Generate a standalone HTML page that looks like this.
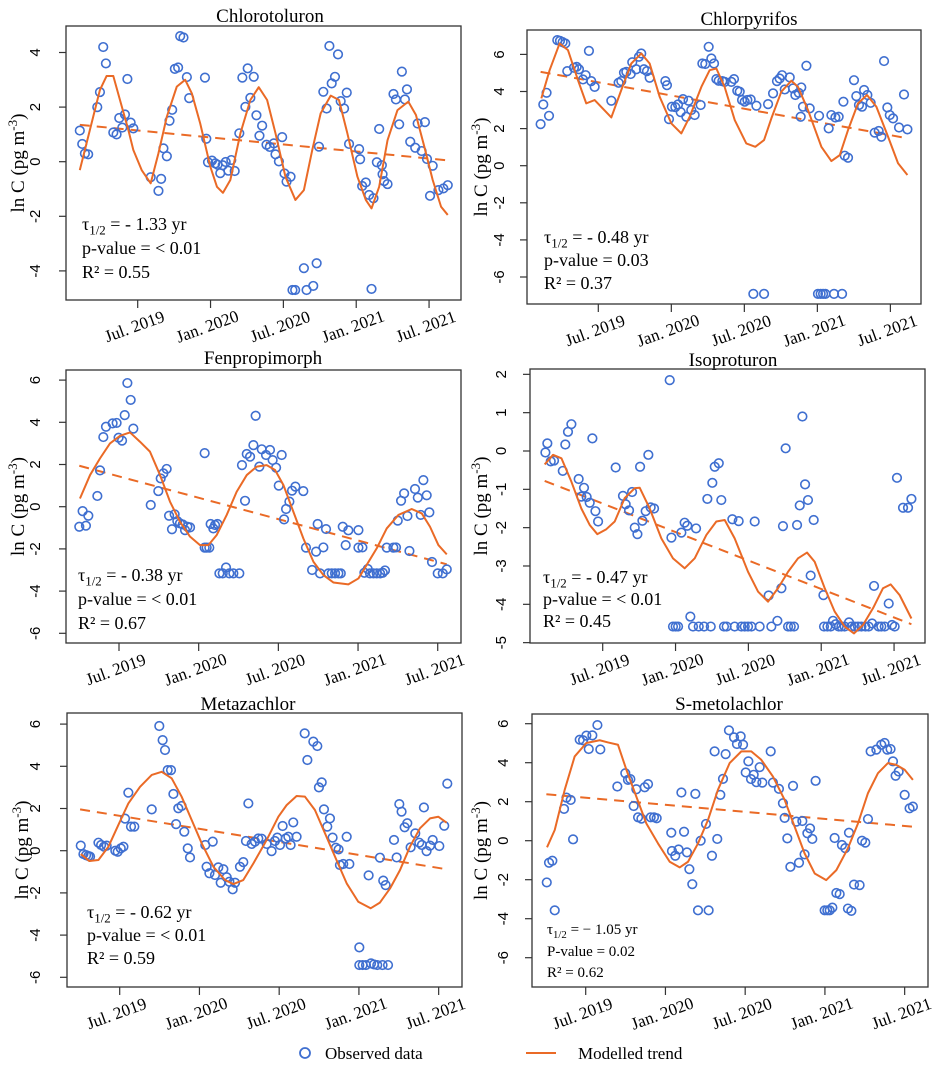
<!DOCTYPE html>
<html><head><meta charset="utf-8">
<style>
html,body{margin:0;padding:0;background:#fff;}
svg{display:block;}
svg text{font-family:"Liberation Serif","DejaVu Serif",serif;}
svg text.sans{font-family:"Liberation Sans","DejaVu Sans",sans-serif;}
</style></head>
<body>
<svg id="chart" width="938" height="1069" viewBox="0 0 938 1069" xmlns="http://www.w3.org/2000/svg"></svg>
<script>
// ---------- shared axis data ----------
const xTickMonths = [6, 12, 18, 24, 30];
const xTickLabels = ["Jul. 2019", "Jan. 2020", "Jul. 2020", "Jan. 2021", "Jul. 2021"];

// ---------- Panel 1: Chlorotoluron ----------
const p1ObsMonths = [1.23,1.43,1.65,1.92,2.67,2.89,3.16,3.38,3.99,4.26,4.48,4.73,4.95,5.15,5.42,5.64,7.07,7.71,7.93,8.12,8.4,8.62,8.84,9.06,9.33,9.5,9.77,10.05,10.24,11.54,11.65,11.79,12.12,12.39,12.58,12.8,13.0,13.25,13.47,13.71,13.99,14.37,14.62,14.87,15.06,15.28,15.56,15.78,16.03,16.25,16.61,16.88,17.21,17.35,17.63,17.9,18.09,18.26,18.59,18.75,18.97,19.69,19.91,20.46,20.74,20.93,21.29,21.56,21.79,21.98,22.25,22.5,22.72,23.0,23.22,23.41,24.24,24.32,24.49,24.79,25.06,25.42,25.26,25.7,25.89,26.11,26.17,26.3,26.58,27.07,27.27,27.54,27.76,28.01,28.18,28.45,28.86,29.06,29.39,29.66,29.83,30.3,30.08,30.77,31.18,31.54];
const p1ObsValues = [1.14,0.65,0.3,0.27,2.0,2.55,4.2,3.6,1.07,1.0,1.6,1.25,1.73,3.03,1.43,1.22,-0.57,-1.07,-0.63,0.49,0.2,1.5,1.9,3.4,3.45,4.6,4.55,3.1,2.33,3.08,0.84,-0.02,0.04,-0.06,-0.11,-0.42,-0.13,-0.01,-0.33,0.06,-0.34,1.04,3.08,2.01,3.42,2.34,3.11,1.7,0.95,1.32,0.62,0.54,0.67,0.27,0.01,0.9,-0.43,-0.73,-0.55,-4.7,-4.7,-3.9,-4.7,-4.55,-3.72,0.55,2.56,1.95,4.24,2.87,3.11,3.93,2.22,1.95,2.53,0.65,0.46,0.09,-0.89,-0.76,-1.22,-1.34,-4.66,-0.02,1.2,-0.13,-0.46,-0.71,-0.82,2.48,2.28,1.37,3.3,2.28,2.65,0.73,0.51,1.4,0.39,1.45,0.1,-0.15,-1.25,-1.04,-0.98,-0.86];
const p1FitMonths = [1.23,2.06,2.89,3.44,3.99,4.54,5.23,5.64,6.33,7.07,7.71,8.4,9.22,9.91,10.46,11.15,11.98,12.53,13.02,13.63,14.46,15.28,15.97,16.66,17.35,18.17,18.99,19.69,20.38,21.07,21.9,22.58,23.27,24.1,24.79,25.26,25.89,26.58,27.4,28.29,28.92,29.61,30.3,30.99,31.54];
const p1FitValues = [-0.31,1.16,2.63,3.14,3.14,2.26,1.16,0.43,-0.31,-0.79,0.31,1.65,2.75,3.0,2.5,1.4,-0.18,-0.92,-1.14,-0.67,1.04,2.26,2.73,2.26,1.04,-0.55,-1.4,-1.04,0.43,1.77,2.42,2.26,1.04,-0.55,-1.4,-1.71,-0.92,0.79,1.89,2.2,1.71,0.55,-0.67,-1.65,-1.95];
const p1TrendMonths = [1.23, 31.54];
const p1TrendValues = [1.35, 0.05];

// ---------- Panel 2: Chlorpyrifos ----------
const p2ObsMonths = [1.26,1.48,1.75,1.95,2.63,2.85,3.07,3.29,3.45,4.0,4.22,4.41,4.74,4.96,5.23,5.42,5.7,7.07,7.67,7.89,8.11,8.3,8.66,8.79,9.12,9.34,9.53,9.75,10.0,10.22,11.51,11.64,11.81,12.05,12.33,12.55,12.77,12.96,13.23,13.42,13.64,13.92,14.41,14.55,14.79,15.07,15.29,15.51,15.7,15.89,16.19,16.38,16.93,17.15,17.42,17.62,17.81,18.03,18.25,18.52,18.74,18.99,19.62,19.95,20.36,20.68,20.9,21.1,21.32,21.73,22.0,22.19,22.47,22.68,22.82,23.1,23.37,22.63,24.14,24.05,24.27,24.47,24.66,25.37,26.03,24.93,25.15,25.48,25.75,26.14,26.25,26.52,27.01,27.2,27.42,27.67,27.84,28.11,28.38,28.71,29.04,29.26,29.48,29.75,29.95,30.22,30.71,31.12,31.4];
const p2ObsValues = [2.24,3.3,3.93,2.69,6.77,6.73,6.66,6.59,5.1,5.28,5.33,5.2,4.65,4.88,6.19,4.56,4.25,3.5,4.47,4.56,5.01,5.06,4.94,5.58,5.2,5.87,6.05,5.2,5.1,4.74,4.56,4.34,2.51,3.18,3.16,3.3,2.89,3.59,2.64,3.5,3.0,2.73,3.27,5.51,5.48,6.41,5.78,5.51,4.67,4.58,4.56,4.52,4.52,4.67,4.04,3.99,3.54,3.45,3.54,3.57,-6.91,3.23,-6.91,3.32,3.9,4.56,4.7,4.88,4.11,4.76,4.17,3.81,3.93,4.22,3.18,5.39,3.09,2.64,2.69,-6.91,-6.91,-6.91,-6.91,-6.91,-6.91,2.01,2.73,2.6,2.64,3.45,0.54,0.43,4.61,3.75,3.27,3.18,4.08,3.81,3.39,1.78,1.87,1.56,5.64,3.14,2.73,2.55,2.06,3.84,1.96];
const p2FitMonths = [1.32,2.0,2.82,3.51,4.33,5.01,5.7,7.07,7.89,8.71,9.53,10.22,11.04,12.0,12.82,13.51,14.47,15.15,15.7,16.38,17.21,18.16,18.9,19.62,20.22,21.04,21.86,22.41,23.23,24.33,25.15,25.84,26.52,27.34,28.08,28.85,29.81,30.63,31.4];
const p2FitValues = [3.63,5.15,6.59,6.23,4.61,3.36,3.54,2.6,4.08,5.51,6.05,5.51,3.72,2.28,1.74,2.64,4.25,5.15,5.24,4.25,2.46,1.2,1.02,1.38,2.55,3.99,4.58,4.25,3.0,1.02,0.25,0.57,1.92,3.36,3.81,3.18,1.56,0.13,-0.5];
const p2TrendMonths = [1.26, 31.23];
const p2TrendValues = [5.06, 1.5];

// ---------- Panel 3: Fenpropimorph ----------
const p3ObsMonths = [3.01,3.26,3.51,3.69,4.37,4.57,4.82,5.02,5.52,5.82,5.97,6.23,6.43,6.63,6.88,7.08,8.39,8.96,9.14,9.34,9.59,9.77,9.99,10.19,10.39,10.59,10.8,10.97,11.15,11.35,12.45,12.45,12.6,12.8,12.9,13.1,13.23,13.41,13.56,13.81,14.06,14.31,14.61,15.06,15.26,15.49,15.62,15.87,16.12,16.29,16.57,16.75,17.07,17.37,17.57,17.83,18.03,18.25,18.43,18.58,18.83,19.03,19.28,19.88,20.08,20.54,20.84,20.96,21.14,21.39,21.59,21.77,22.02,22.27,22.52,22.7,22.85,23.07,23.27,24.03,24.03,24.33,24.48,24.73,24.9,25.16,25.41,25.66,25.86,26.03,26.16,26.66,26.86,26.99,27.24,27.47,27.72,27.87,28.29,28.5,28.72,28.92,29.17,29.37,29.57,30.0,30.38,30.68];
const p3ObsValues = [-0.95,-0.21,-0.9,-0.43,0.51,1.72,3.3,3.79,3.95,3.97,3.27,3.13,4.34,5.86,5.06,3.7,0.08,0.74,1.34,1.58,1.79,-0.43,-1.07,-0.36,-0.68,-0.79,-0.84,-1.11,-0.95,-0.98,2.54,-1.94,-1.94,-1.94,-0.82,-1.03,-0.87,-0.82,-3.16,-3.16,-2.88,-3.16,-3.16,-3.16,1.97,0.28,2.5,2.37,2.92,4.31,1.9,2.72,2.45,2.69,2.21,1.85,1.0,2.45,-0.6,-0.11,0.24,0.76,0.95,0.74,-1.94,-3.0,-2.13,-0.82,-3.16,-1.93,-1.06,-3.16,-3.16,-3.16,-3.16,-3.16,-0.95,-1.82,-1.12,-1.11,-1.94,-1.93,-3.13,-2.95,-3.16,-3.16,-3.16,-3.16,-3.13,-3.02,-1.94,-1.94,-1.93,-0.66,0.28,0.63,-0.44,-2.1,0.84,0.43,-0.39,1.26,0.54,-0.27,-2.62,-3.16,-3.16,-2.97];
const p3FitMonths = [3.06,3.82,4.57,5.32,6.08,6.83,7.58,8.33,9.09,9.84,10.59,11.35,12.1,12.73,13.36,14.11,14.86,15.62,16.37,17.12,17.75,18.38,19.13,19.88,20.64,21.39,22.14,23.27,24.03,24.65,25.41,26.16,27.04,28.04,28.8,29.42,30.05,30.68];
const p3FitValues = [0.39,1.5,2.29,3.0,3.36,3.52,3.08,2.61,1.5,0.24,-0.71,-1.42,-1.82,-1.82,-1.34,-0.39,0.71,1.5,1.9,1.97,1.74,1.03,-0.24,-1.5,-2.61,-3.24,-3.59,-3.68,-3.4,-2.76,-1.97,-1.03,-0.39,-0.11,-0.32,-0.95,-1.82,-2.26];
const p3TrendMonths = [3.01, 30.68];
const p3TrendValues = [1.94, -2.73];

// ---------- Panel 4: Isoproturon ----------
const p4ObsMonths = [1.28,1.44,1.72,1.99,2.71,2.92,3.14,3.42,4.02,4.24,4.46,4.68,4.93,5.15,5.4,5.62,7.07,7.67,7.89,8.17,8.42,8.64,8.86,9.08,9.27,9.54,9.76,9.95,10.23,11.52,11.66,11.79,12.01,12.21,12.48,12.75,12.97,13.22,13.44,13.69,13.91,14.35,14.62,14.9,15.03,15.23,15.56,15.77,15.99,16.21,16.68,16.87,17.2,17.42,17.7,17.97,18.25,18.52,18.93,19.67,19.89,20.39,20.72,20.85,21.07,21.27,21.49,21.76,22.01,22.23,22.45,22.67,22.91,23.13,23.38,24.18,24.23,24.51,24.78,24.97,25.19,25.44,25.66,25.93,26.29,26.48,26.76,27.03,27.31,27.64,27.91,28.19,28.35,28.73,28.95,29.23,29.56,29.83,30.05,30.24,30.74,31.15,31.43];
const p4ObsValues = [-0.04,0.2,-0.27,-0.25,-0.52,0.17,0.5,0.7,-0.73,-1.19,-0.96,-1.2,-1.35,0.33,-1.57,-1.84,-0.43,-1.17,-1.39,-1.55,-1.07,-2.0,-2.17,-0.41,-1.82,-1.57,-0.1,-1.47,-1.5,1.85,-2.26,-4.58,-4.58,-4.58,-2.13,-1.87,-1.95,-4.32,-4.58,-2.02,-4.58,-4.58,-1.25,-4.58,-0.83,-0.41,-0.32,-1.28,-4.58,-4.58,-1.78,-4.58,-1.83,-4.58,-4.58,-4.58,-4.58,-1.84,-4.58,-3.77,-4.58,-4.43,-3.58,-1.96,0.07,-4.58,-4.58,-4.58,-1.93,-1.42,0.9,-0.87,-1.28,-3.25,-1.8,-3.76,-4.58,-4.58,-4.58,-4.43,-4.52,-4.58,-4.58,-4.58,-4.47,-4.58,-4.58,-4.58,-4.58,-4.58,-4.58,-4.5,-3.52,-4.58,-4.58,-4.58,-3.98,-4.54,-4.58,-0.7,-1.48,-1.48,-1.25];
const p4FitMonths = [1.22,1.91,2.6,3.42,4.24,4.93,5.56,6.3,6.99,7.81,8.64,9.05,9.87,10.83,11.79,12.75,13.58,14.54,15.36,16.05,16.87,17.97,18.8,19.62,20.44,21.27,22.09,22.83,23.46,24.29,25.11,25.93,26.7,27.44,28.27,29.09,29.72,30.46,31.43];
const p4FitValues = [-0.35,-0.1,-0.19,-0.8,-1.5,-1.93,-2.17,-2.04,-1.84,-1.23,-0.97,-0.96,-1.5,-2.28,-2.8,-3.06,-2.8,-2.19,-1.84,-1.8,-2.28,-3.15,-3.67,-3.93,-3.58,-3.15,-2.8,-2.65,-2.89,-3.58,-4.19,-4.58,-4.76,-4.54,-4.1,-3.58,-3.48,-3.76,-4.37];
const p4TrendMonths = [1.22, 31.43];
const p4TrendValues = [-0.78, -4.52];

// ---------- Panel 5: Metazachlor ----------
const p5ObsMonths = [3.07,3.27,3.47,3.64,3.77,4.4,4.6,4.82,5.02,5.67,5.85,6.08,6.28,6.4,6.65,6.85,7.1,8.41,8.98,9.23,9.41,9.61,9.86,10.04,10.24,10.41,10.66,10.86,11.12,11.29,12.44,12.54,12.75,13.0,13.17,13.42,13.6,13.8,14.05,14.25,14.5,14.68,15.05,15.3,15.5,15.68,15.93,16.18,16.43,16.68,17.06,17.43,17.68,17.86,18.06,18.26,18.49,18.69,18.86,19.06,19.31,19.92,20.12,20.57,20.87,20.99,21.2,21.37,21.62,21.82,22.02,22.27,22.47,22.57,22.82,23.08,23.28,24.03,24.03,24.28,24.53,24.73,24.91,25.13,25.38,25.58,25.78,25.83,26.01,26.19,26.64,26.84,27.04,27.21,27.44,27.64,27.89,28.24,28.54,28.74,28.89,29.09,29.35,29.55,30.05,30.42,30.65];
const p5ObsValues = [0.24,-0.16,-0.21,-0.25,-0.28,0.38,0.27,0.19,0.24,0.0,-0.05,0.11,0.19,1.52,2.75,1.14,1.14,1.96,5.91,5.24,4.77,3.82,3.82,2.69,1.26,2.01,2.12,0.9,0.11,-0.32,0.27,-0.76,-1.07,0.43,-1.15,-0.79,-1.52,-0.88,-1.26,-1.47,-1.83,-1.52,-0.76,-0.54,0.46,2.24,0.32,0.43,0.58,0.57,0.32,-0.02,0.46,0.62,0.27,1.17,0.58,0.66,0.27,1.34,0.66,5.56,4.3,5.17,4.96,3.0,3.24,1.96,1.14,1.53,0.62,0.14,0.06,-0.68,-0.63,0.66,-0.63,-4.58,-5.42,-5.42,-5.42,-1.17,-5.34,-5.39,-5.42,-0.33,-5.42,-1.42,-1.63,-5.42,0.51,-0.32,2.21,1.85,1.11,1.3,0.16,0.82,0.38,0.27,2.05,-0.02,0.24,0.51,0.22,1.18,3.18];
const p5FitMonths = [3.07,3.72,4.4,5.15,5.9,6.65,7.53,8.41,9.16,9.91,10.66,11.42,12.17,13.05,13.92,14.55,15.3,16.06,17.06,17.94,18.56,19.31,19.94,20.69,21.45,22.2,23.08,23.95,24.88,25.58,26.34,27.09,27.84,28.59,29.35,29.97,30.6];
const p5FitValues = [-0.16,-0.49,-0.44,0.19,1.22,2.24,3.03,3.59,3.74,3.43,2.56,1.45,0.35,-0.76,-1.39,-1.58,-1.39,-0.6,0.51,1.61,2.16,2.59,2.56,1.93,0.82,-0.28,-1.55,-2.42,-2.73,-2.46,-1.79,-0.92,0.19,1.06,1.53,1.61,1.33];
const p5TrendMonths = [3.02, 30.6];
const p5TrendValues = [1.96, -0.88];

// ---------- Panel 6: S-metolachlor ----------
const p6ObsMonths = [3.07,3.24,3.49,3.67,4.37,4.55,4.87,5.05,5.55,5.8,6.05,6.23,6.5,6.88,7.1,8.38,8.98,9.18,9.36,9.61,9.81,9.94,10.19,10.44,10.69,10.89,11.14,11.34,12.44,12.49,12.74,12.99,13.2,13.4,13.62,13.8,14.02,14.25,14.45,14.65,15.05,15.25,15.5,15.7,15.9,16.13,16.33,16.53,16.78,17.16,17.38,17.66,17.84,18.04,18.24,18.44,18.64,18.84,19.09,19.29,19.92,20.09,20.54,20.84,20.97,21.17,21.4,21.6,21.85,22.05,22.3,22.47,22.68,22.88,23.05,23.3,23.98,24.18,24.36,24.56,24.73,24.86,25.11,25.28,25.53,25.73,25.81,25.99,26.19,26.61,26.79,27.04,27.24,27.44,27.87,28.24,28.49,28.69,28.94,29.12,29.32,29.55,30.0,30.37,30.62];
const p6ObsValues = [-2.14,-1.13,-1.03,-3.57,1.63,2.21,2.09,0.07,5.18,5.15,5.39,4.7,5.4,5.93,4.68,2.78,3.46,3.12,3.16,1.78,2.64,1.2,1.13,2.74,2.9,1.2,1.2,1.15,0.41,-0.53,-0.77,-0.45,2.47,0.46,-0.6,-1.46,-2.23,2.4,-3.57,0.0,0.86,-3.57,-0.77,4.58,0.09,2.35,3.17,4.44,5.66,5.3,4.96,5.35,4.92,3.5,4.07,3.16,3.38,3.0,3.77,2.98,4.58,2.98,2.66,1.92,1.17,0.12,-1.34,2.81,0.98,-1.13,1.01,-0.7,0.38,0.63,0.09,3.07,-3.57,-3.57,-3.57,-3.43,0.14,-2.68,-2.74,-0.22,-0.38,-3.48,0.41,-3.6,-2.25,-2.28,0.0,-0.1,1.11,4.58,4.67,4.92,5.01,4.67,4.7,4.07,3.33,3.55,2.35,1.66,1.75];
const p6FitMonths = [3.09,3.67,4.42,5.17,6.05,7.05,7.68,8.43,9.06,9.81,10.56,11.44,12.32,13.07,13.7,14.45,15.2,15.95,16.83,17.71,18.46,19.21,20.09,20.97,21.72,22.47,23.23,24.1,24.86,25.73,26.49,27.24,27.99,28.74,29.37,30.0,30.62];
const p6FitValues = [-0.34,0.55,2.61,4.32,5.01,5.15,5.04,4.92,3.64,2.26,0.89,-0.14,-1.08,-1.37,-1.08,-0.14,1.06,2.61,3.98,4.58,4.58,4.15,3.29,2.09,0.72,-0.65,-1.68,-2.02,-1.51,-0.39,0.89,2.44,3.46,3.98,3.89,3.64,3.12];
const p6TrendMonths = [3.04, 30.62];
const p6TrendValues = [2.38, 0.72];

// ---------- drawing ----------
const NS = "http://www.w3.org/2000/svg";
const svg = document.getElementById("chart");
const BLUE = "#3f6fd0", ORANGE = "#ea6a26";
const SERIF = "'Liberation Serif', 'DejaVu Serif', serif";
const SANS = "'Liberation Sans', 'DejaVu Sans', sans-serif";

function mk(tag, attrs, parent) {
  const e = document.createElementNS(NS, tag);
  if (tag === "text") e.setAttribute("font-family", SERIF);
  for (const k in attrs) e.setAttribute(k, attrs[k]);
  (parent || svg).appendChild(e);
  return e;
}

const panels = [
  {key:"chlorotoluron", title:"Chlorotoluron", box:[66,26,461,300], xJul:137.7, ppm:12.14, y0:161.7, ppu:27.3, yTicks:[-4,-2,0,2,4], titleX:270, titleY:22, statX:82, statY:[230,254,278], statSize:18, ytx:40, ylx:24,
   stats:["- 1.33 yr","p-value = < 0.01","0.55"], obsM:p1ObsMonths, obsV:p1ObsValues, fitM:p1FitMonths, fitV:p1FitValues, trM:p1TrendMonths, trV:p1TrendValues},
  {key:"chlorpyrifos", title:"Chlorpyrifos", box:[527,30,921,304], xJul:598.3, ppm:12.17, y0:165.7, ppu:18.55, yTicks:[-6,-4,-2,0,2,4,6], titleX:749, titleY:25, statX:544, statY:[243,266,289], statSize:18, ytx:504, ylx:487,
   stats:["- 0.48 yr","p-value = 0.03","0.37"], obsM:p2ObsMonths, obsV:p2ObsValues, fitM:p2FitMonths, fitV:p2FitValues, trM:p2TrendMonths, trV:p2TrendValues},
  {key:"fenpropimorph", title:"Fenpropimorph", box:[66,370,461,643], xJul:119, ppm:13.28, y0:506.7, ppu:21.1, yTicks:[-6,-4,-2,0,2,4,6], titleX:263, titleY:364, statX:78, statY:[581,605,629], statSize:18, ytx:40, ylx:24,
   stats:["- 0.38 yr","p-value = < 0.01","0.67"], obsM:p3ObsMonths, obsV:p3ObsValues, fitM:p3FitMonths, fitV:p3FitValues, trM:p3TrendMonths, trV:p3TrendValues},
  {key:"isoproturon", title:"Isoproturon", box:[530,369,925,643], xJul:602.7, ppm:12.14, y0:451, ppu:38.33, yTicks:[-5,-4,-3,-2,-1,0,1,2], titleX:733, titleY:366, statX:543, statY:[583,605,627], statSize:18, ytx:506, ylx:487,
   stats:["- 0.47 yr","p-value = < 0.01","0.45"], obsM:p4ObsMonths, obsV:p4ObsValues, fitM:p4FitMonths, fitV:p4FitValues, trM:p4TrendMonths, trV:p4TrendValues},
  {key:"metazachlor", title:"Metazachlor", box:[67,713,462,987], xJul:119.7, ppm:13.29, y0:850.7, ppu:21.1, yTicks:[-6,-4,-2,0,2,4,6], titleX:248, titleY:710, statX:87, statY:[918,941,964], statSize:18, ytx:40, ylx:28,
   stats:["- 0.62 yr","p-value = < 0.01","0.59"], obsM:p5ObsMonths, obsV:p5ObsValues, fitM:p5FitMonths, fitV:p5FitValues, trM:p5TrendMonths, trV:p5TrendValues},
  {key:"s-metolachlor", title:"S-metolachlor", box:[532,714,928,987], xJul:585.7, ppm:13.29, y0:840.7, ppu:19.5, yTicks:[-6,-4,-2,0,2,4,6], titleX:729, titleY:710, statX:547, statY:[934,956,977], statSize:15, ytx:508, ylx:487,
   stats:["\u2212 1.05 yr","P-value = 0.02","0.62"], obsM:p6ObsMonths, obsV:p6ObsValues, fitM:p6FitMonths, fitV:p6FitValues, trM:p6TrendMonths, trV:p6TrendValues}
];

panels.forEach(function(p) {
  const [L,T,R,B] = p.box;
  const xs = m => p.xJul + (m - 6) * p.ppm;
  const ys = v => p.y0 - v * p.ppu;
  const g = mk("g", {});
  
  

  const title = mk("text", {x:p.titleX, y:p.titleY, "text-anchor":"middle", "font-size":19, fill:"#000"}, g);
  title.textContent = p.title;
  
  

  const frame = mk("rect", {x:L, y:T, width:R-L, height:B-T, fill:"none", stroke:"#333", "stroke-width":1.3}, g);
  
  

  p.yTicks.forEach(function(t) {
    const y = ys(t);
    const tk = mk("line", {x1:L-7, x2:L, y1:y, y2:y, stroke:"#333", "stroke-width":1.2}, g);
    
    
    const lb = mk("text", {x:p.ytx, y:y, transform:"rotate(-90 "+p.ytx+" "+y+")", "text-anchor":"middle", "font-size":15, fill:"#000", "font-family":SANS, "class":"sans"}, g);
    lb.textContent = String(t);
    
    
  });

  xTickMonths.forEach(function(m, i) {
    const x = xs(m);
    const tk = mk("line", {x1:x, x2:x, y1:B, y2:B+8, stroke:"#333", "stroke-width":1.2}, g);
    
    
    const cx = x - 3, cy = B + 32;
    const lb = mk("text", {x:cx, y:cy, transform:"rotate(-20 "+cx+" "+(cy-5)+")", "text-anchor":"middle", "font-size":17, fill:"#000"}, g);
    lb.textContent = xTickLabels[i];
    
    
  });

  const cy = (T + B) / 2;
  const yl = mk("text", {x:p.ylx, y:cy, transform:"rotate(-90 "+p.ylx+" "+cy+")", "text-anchor":"middle", "font-size":19, fill:"#000"}, g);
  
  
  const t1 = mk("tspan", {}, yl); t1.textContent = "ln C (pg m";
  const t2 = mk("tspan", {"baseline-shift":"super", "font-size":13}, yl); t2.textContent = "-3";
  const t3 = mk("tspan", {}, yl); t3.textContent = ")";

  const tr = mk("polyline", {points:p.trM.map((m,i)=>xs(m)+","+ys(p.trV[i])).join(" "), fill:"none", stroke:ORANGE, "stroke-width":2, "stroke-dasharray":"10,7"}, g);
  
  

  p.obsM.forEach(function(m, i) {
    const c = mk("circle", {cx:xs(m), cy:ys(p.obsV[i]), r:4.3, fill:"none", stroke:BLUE, "stroke-width":1.6}, g);
    
    
  });

  const fit = mk("polyline", {points:p.fitM.map((m,i)=>xs(m)+","+ys(p.fitV[i])).join(" "), fill:"none", stroke:ORANGE, "stroke-width":2, "stroke-linejoin":"round"}, g);
  
  

  const fs = p.statSize;
  const s1 = mk("text", {x:p.statX, y:p.statY[0], "font-size":fs, fill:"#000"}, g);
  
  
  const a = mk("tspan", {}, s1); a.textContent = "\u03c4";
  const b = mk("tspan", {dy: fs*0.25, "font-size":fs*0.72}, s1); b.textContent = "1/2";
  const c2 = mk("tspan", {dy: -fs*0.25}, s1); c2.textContent = " = " + p.stats[0];
  const s2 = mk("text", {x:p.statX, y:p.statY[1], "font-size":fs, fill:"#000"}, g);
  s2.textContent = p.stats[1];
  
  
  const s3 = mk("text", {x:p.statX, y:p.statY[2], "font-size":fs, fill:"#000"}, g);
  
  
  s3.textContent = "R\u00b2 = " + p.stats[2];
});

const lg = mk("g", {});


const lc = mk("circle", {cx:305, cy:1053, r:5, fill:"none", stroke:BLUE, "stroke-width":1.8}, lg);


const lt = mk("text", {x:325, y:1059, "font-size":17, fill:"#000"}, lg);
lt.textContent = "Observed data";


const ll = mk("line", {x1:526, x2:556, y1:1053, y2:1053, stroke:ORANGE, "stroke-width":2}, lg);


const lt2 = mk("text", {x:578, y:1059, "font-size":17, fill:"#000"}, lg);
lt2.textContent = "Modelled trend";


</script>
</body></html>
